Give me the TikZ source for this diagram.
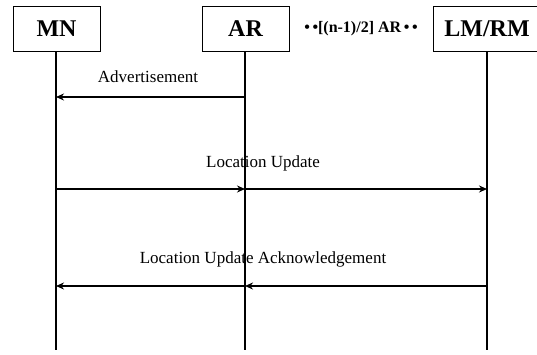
\documentclass[tikz,border=0pt]{standalone}
\usepackage{fontspec}
\setmainfont{Liberation Serif}
\usetikzlibrary{arrows.meta}
\begin{document}
\begin{tikzpicture}[x=1pt,y=-1pt,
  entity/.style={draw,line width=0.8pt,minimum width=87pt,minimum height=45pt,inner sep=0pt,font=\fontsize{24}{24}\selectfont\bfseries},
  lifeline/.style={line width=1.4pt},
  msg/.style={line width=1.4pt,-{Stealth[length=8pt,width=7pt]}},
  lbl/.style={font=\fontsize{17}{17}\selectfont,inner sep=0pt}]
\useasboundingbox (0,0) rectangle (537,354);
\fill[white] (0,0) rectangle (537,354);
\node[entity] (mn) at (56.5,28.5) {MN};
\node[entity] (ar) at (245.5,28.5) {AR};
\node[entity,minimum width=108pt] (lm) at (487,28.5) {LM/RM};
\node[font=\fontsize{16}{16}\selectfont\bfseries,inner sep=0pt] (dots) at (361,29) {\textbullet\,\textbullet[(n-1)/2] AR\,\textbullet\,\textbullet};
\coordinate (mnend) at (56,350);
\coordinate (arend) at (245,350);
\coordinate (lmend) at (487,350);
\draw[lifeline] (mn.south -| mnend) -- (mnend);
\draw[lifeline] (ar.south -| arend) -- (arend);
\draw[lifeline] (lm.south -| lmend) -- (lmend);
\coordinate (mn1) at (56,97);
\coordinate (ar1) at (245,97);
\coordinate (mn2) at (56,189);
\coordinate (ar2) at (245,189);
\coordinate (lm2) at (487,189);
\coordinate (mn3) at (56,286);
\coordinate (ar3) at (245,286);
\coordinate (lm3) at (487,286);
\draw[msg] (ar1) -- (mn1);
\draw[msg] (mn2) -- (ar2);
\draw[msg] (ar2) -- (lm2);
\draw[msg] (lm3) -- (ar3);
\draw[msg] (ar3) -- (mn3);
\node[lbl] (l1) at (148,77) {Advertisement};
\node[lbl] (l2) at (263,163) {Location Update};
\node[lbl] (l3) at (263,259) {Location Update Acknowledgement};
\end{tikzpicture}
\end{document}
